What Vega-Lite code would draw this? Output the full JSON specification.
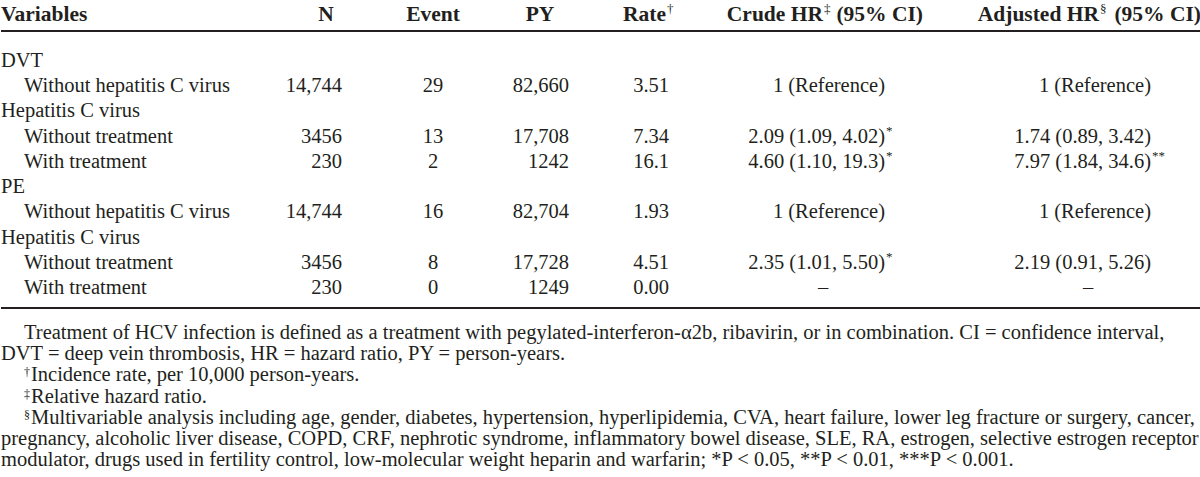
{
  "$schema": "https://vega.github.io/schema/vega-lite/v6.json",
  "width": 1200,
  "height": 477,
  "padding": 0,
  "autosize": {"type": "fit", "contains": "padding"},
  "background": "white",
  "config": {"view": {"stroke": null}, "text": {"font": "Liberation Serif", "fontSize": 20.5, "color": "#231f20", "baseline": "alphabetic"}},
  "datasets": {
    "rules": [
      {"row": 0.5, "col": 0, "col2": 17},
      {"row": 10.5, "col": 0, "col2": 17}
    ],
    "cells": [
      {"row": 0, "col": 0, "text": "Variables", "kind": "hl"},
      {"row": 0, "col": 3, "text": "N", "kind": "hc"},
      {"row": 0, "col": 5, "text": "Event", "kind": "hc"},
      {"row": 0, "col": 6, "text": "PY", "kind": "hc"},
      {"row": 0, "col": 8, "text": "Rate", "kind": "hr"},
      {"row": 0, "col": 8, "text": "†", "kind": "s"},
      {"row": 0, "col": 10, "text": "Crude HR", "kind": "hr"},
      {"row": 0, "col": 10, "text": "‡", "kind": "s"},
      {"row": 0, "col": 13, "text": "(95% CI)", "kind": "hr"},
      {"row": 0, "col": 15, "text": "Adjusted HR", "kind": "hr"},
      {"row": 0, "col": 15, "text": "§", "kind": "s"},
      {"row": 0, "col": 17, "text": "(95% CI)", "kind": "hr"},

      {"row": 1, "col": 0, "text": "DVT", "kind": "l"},
      {"row": 2, "col": 1, "text": "Without hepatitis C virus", "kind": "l"},
      {"row": 2, "col": 4, "text": "14,744", "kind": "r"},
      {"row": 2, "col": 5, "text": "29", "kind": "c"},
      {"row": 2, "col": 7, "text": "82,660", "kind": "r"},
      {"row": 2, "col": 9, "text": "3.51", "kind": "r"},
      {"row": 2, "col": 12, "text": "1 (Reference)", "kind": "r"},
      {"row": 2, "col": 16, "text": "1 (Reference)", "kind": "r"},
      {"row": 3, "col": 0, "text": "Hepatitis C virus", "kind": "l"},
      {"row": 4, "col": 1, "text": "Without treatment", "kind": "l"},
      {"row": 4, "col": 4, "text": "3456", "kind": "r"},
      {"row": 4, "col": 5, "text": "13", "kind": "c"},
      {"row": 4, "col": 7, "text": "17,708", "kind": "r"},
      {"row": 4, "col": 9, "text": "7.34", "kind": "r"},
      {"row": 4, "col": 12, "text": "2.09 (1.09, 4.02)", "kind": "r"},
      {"row": 4, "col": 12, "text": "*", "kind": "s"},
      {"row": 4, "col": 16, "text": "1.74 (0.89, 3.42)", "kind": "r"},
      {"row": 5, "col": 1, "text": "With treatment", "kind": "l"},
      {"row": 5, "col": 4, "text": "230", "kind": "r"},
      {"row": 5, "col": 5, "text": "2", "kind": "c"},
      {"row": 5, "col": 7, "text": "1242", "kind": "r"},
      {"row": 5, "col": 9, "text": "16.1\u2007", "kind": "r"},
      {"row": 5, "col": 12, "text": "4.60 (1.10, 19.3)", "kind": "r"},
      {"row": 5, "col": 12, "text": "*", "kind": "s"},
      {"row": 5, "col": 16, "text": "7.97 (1.84, 34.6)", "kind": "r"},
      {"row": 5, "col": 16, "text": "**", "kind": "s"},
      {"row": 6, "col": 0, "text": "PE", "kind": "l"},
      {"row": 7, "col": 1, "text": "Without hepatitis C virus", "kind": "l"},
      {"row": 7, "col": 4, "text": "14,744", "kind": "r"},
      {"row": 7, "col": 5, "text": "16", "kind": "c"},
      {"row": 7, "col": 7, "text": "82,704", "kind": "r"},
      {"row": 7, "col": 9, "text": "1.93", "kind": "r"},
      {"row": 7, "col": 12, "text": "1 (Reference)", "kind": "r"},
      {"row": 7, "col": 16, "text": "1 (Reference)", "kind": "r"},
      {"row": 8, "col": 0, "text": "Hepatitis C virus", "kind": "l"},
      {"row": 9, "col": 1, "text": "Without treatment", "kind": "l"},
      {"row": 9, "col": 4, "text": "3456", "kind": "r"},
      {"row": 9, "col": 5, "text": "8", "kind": "c"},
      {"row": 9, "col": 7, "text": "17,728", "kind": "r"},
      {"row": 9, "col": 9, "text": "4.51", "kind": "r"},
      {"row": 9, "col": 12, "text": "2.35 (1.01, 5.50)", "kind": "r"},
      {"row": 9, "col": 12, "text": "*", "kind": "s"},
      {"row": 9, "col": 16, "text": "2.19 (0.91, 5.26)", "kind": "r"},
      {"row": 10, "col": 1, "text": "With treatment", "kind": "l"},
      {"row": 10, "col": 4, "text": "230", "kind": "r"},
      {"row": 10, "col": 5, "text": "0", "kind": "c"},
      {"row": 10, "col": 7, "text": "1249", "kind": "r"},
      {"row": 10, "col": 9, "text": "0.00", "kind": "r"},
      {"row": 10, "col": 10, "text": "–", "kind": "c"},
      {"row": 10, "col": 14, "text": "–", "kind": "c"},

      {"row": 11, "col": 1, "text": "Treatment of HCV infection is defined as a treatment with pegylated-interferon-α2b, ribavirin, or in combination. CI = confidence interval,", "kind": "l"},
      {"row": 12, "col": 0, "text": "DVT = deep vein thrombosis, HR = hazard ratio, PY = person-years.", "kind": "l"},
      {"row": 13, "col": 1, "text": "†", "kind": "fs"},
      {"row": 13, "col": 2, "text": "Incidence rate, per 10,000 person-years.", "kind": "l"},
      {"row": 14, "col": 1, "text": "‡", "kind": "fs"},
      {"row": 14, "col": 2, "text": "Relative hazard ratio.", "kind": "l"},
      {"row": 15, "col": 1, "text": "§", "kind": "fs"},
      {"row": 15, "col": 2, "text": "Multivariable analysis including age, gender, diabetes, hypertension, hyperlipidemia, CVA, heart failure, lower leg fracture or surgery, cancer,", "kind": "l"},
      {"row": 16, "col": 0, "text": "pregnancy, alcoholic liver disease, COPD, CRF, nephrotic syndrome, inflammatory bowel disease, SLE, RA, estrogen, selective estrogen receptor", "kind": "l"},
      {"row": 17, "col": 0, "text": "modulator, drugs used in fertility control, low-molecular weight heparin and warfarin; *P < 0.05, **P < 0.01, ***P < 0.001.", "kind": "l"}
    ]
  },
  "encoding": {
    "x": {"field": "col", "type": "quantitative", "axis": null,
      "scale": {"domain": [0, 1, 2, 3, 4, 5, 6, 7, 8, 9, 10, 11, 12, 13, 14, 15, 16, 17],
                "range": [0, 23, 30, 325, 341, 432, 539, 568, 665, 668, 822, 850, 884, 922, 1087, 1098, 1150, 1200],
                "nice": false, "zero": false, "clamp": false}},
    "y": {"field": "row", "type": "quantitative", "axis": null,
      "scale": {"domain": [0, 0.5, 1, 10, 10.5, 11, 17],
                "range": [21, 31, 67, 294, 308, 339, 466],
                "nice": false, "zero": false}}
  },
  "layer": [
    {"data": {"name": "rules"}, "mark": {"type": "rule", "strokeWidth": 2, "color": "#231f20"},
     "encoding": {"x2": {"field": "col2"}}},
    {"data": {"name": "cells"}, "transform": [{"filter": "datum.kind === 'l'"}],
     "mark": {"type": "text", "align": "left"}, "encoding": {"text": {"field": "text"}}},
    {"data": {"name": "cells"}, "transform": [{"filter": "datum.kind === 'c'"}],
     "mark": {"type": "text", "align": "center"}, "encoding": {"text": {"field": "text"}}},
    {"data": {"name": "cells"}, "transform": [{"filter": "datum.kind === 'r'"}],
     "mark": {"type": "text", "align": "right"}, "encoding": {"text": {"field": "text"}}},
    {"data": {"name": "cells"}, "transform": [{"filter": "datum.kind === 'hl'"}],
     "mark": {"type": "text", "align": "left", "fontWeight": "bold", "fontSize": 21.5}, "encoding": {"text": {"field": "text"}}},
    {"data": {"name": "cells"}, "transform": [{"filter": "datum.kind === 'hc'"}],
     "mark": {"type": "text", "align": "center", "fontWeight": "bold", "fontSize": 21.5}, "encoding": {"text": {"field": "text"}}},
    {"data": {"name": "cells"}, "transform": [{"filter": "datum.kind === 'hr'"}],
     "mark": {"type": "text", "align": "right", "fontWeight": "bold", "fontSize": 21.5}, "encoding": {"text": {"field": "text"}}},
    {"data": {"name": "cells"}, "transform": [{"filter": "datum.kind === 's'"}],
     "mark": {"type": "text", "align": "left", "fontSize": 13, "dy": -8, "dx": 1}, "encoding": {"text": {"field": "text"}}},
    {"data": {"name": "cells"}, "transform": [{"filter": "datum.kind === 'fs'"}],
     "mark": {"type": "text", "align": "left", "fontSize": 12, "dy": -5, "dx": 0}, "encoding": {"text": {"field": "text"}}}
  ]
}
